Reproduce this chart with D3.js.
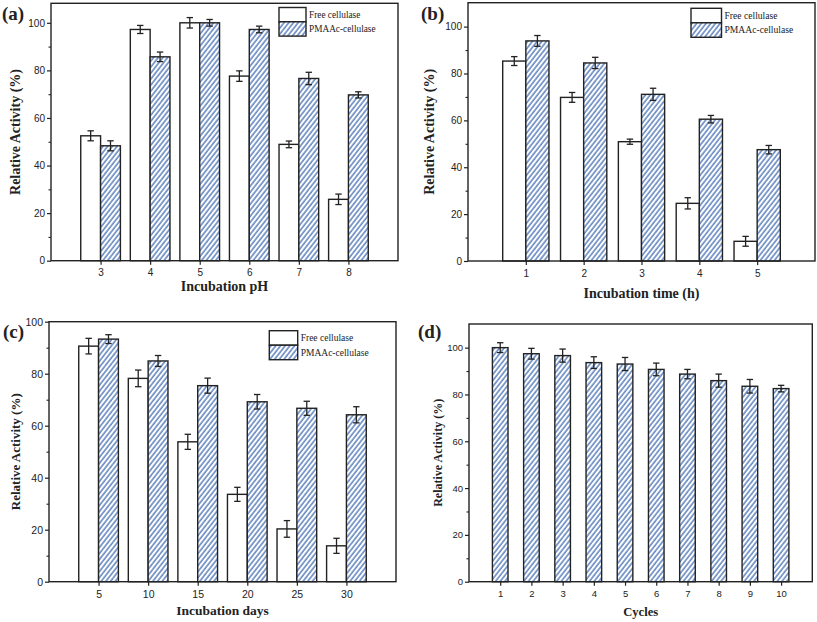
<!DOCTYPE html>
<html>
<head>
<meta charset="utf-8">
<script src="https://cdn.jsdelivr.net/npm/d3@7/dist/d3.min.js"></script>
<style>
  html, body { margin: 0; padding: 0; background: #fff; }
  svg { display: block; }
  .tick text { font-family: "Liberation Sans", Arial, sans-serif; fill: #222; }
  .serif { font-family: "Liberation Serif", "Times New Roman", serif; }
</style>
</head>
<body>
<svg id="chart" width="817" height="622"></svg>
<script>
// ---------------- DATA ----------------
const seriesNames = ["Free cellulase", "PMAAc-cellulase"];

const pHCats = [3, 4, 5, 6, 7, 8];
const pHFree = [52.5, 97.2, 100, 77.6, 48.9, 25.8];
const pHFreeErr = [2.1, 1.7, 2.2, 2.2, 1.4, 2.2];
const pHPmaac = [48.3, 85.7, 100, 97.2, 76.6, 69.7];
const pHPmaacErr = [2.1, 2.0, 1.4, 1.4, 2.6, 1.3];

const timeCats = [1, 2, 3, 4, 5];
const timeFree = [85.3, 69.8, 50.9, 24.6, 8.4];
const timeFreeErr = [1.9, 2.1, 1.1, 2.4, 2.1];
const timePmaac = [93.9, 84.5, 71.1, 60.5, 47.5];
const timePmaacErr = [2.3, 2.4, 2.6, 1.6, 1.8];

const dayCats = [5, 10, 15, 20, 25, 30];
const dayFree = [90.6, 78.2, 53.8, 33.6, 20.3, 13.8];
const dayFreeErr = [3.0, 3.2, 2.9, 2.7, 3.2, 2.9];
const dayPmaac = [93.3, 84.9, 75.4, 69.2, 66.7, 64.2];
const dayPmaacErr = [1.7, 2.1, 2.9, 2.8, 2.7, 3.1];

const cycleCats = [1, 2, 3, 4, 5, 6, 7, 8, 9, 10];
const cyclePmaac = [100, 97.4, 96.6, 93.6, 93.0, 90.7, 88.7, 85.9, 83.5, 82.5];
const cyclePmaacErr = [2.1, 2.3, 2.8, 2.5, 2.8, 2.7, 2.0, 2.8, 2.9, 1.4];

const yMajorTicks = [0, 20, 40, 60, 80, 100];
const yMinorTicks = [10, 30, 50, 70, 90];

// ---------------- DRAW ----------------
const svg = d3.select("#chart");
const HATCH = "#2153a6";
const INK = "#222";

const defs = svg.append("defs");
const pat = defs.append("pattern")
  .attr("id", "hatch")
  .attr("patternUnits", "userSpaceOnUse")
  .attr("width", 3.7).attr("height", 10)
  .attr("patternTransform", "rotate(38)");
pat.append("rect").attr("width", 3.7).attr("height", 10).attr("fill", "#fff");
pat.append("line").attr("x1", 1).attr("x2", 1).attr("y1", 0).attr("y2", 10)
  .attr("stroke", HATCH).attr("stroke-width", 1.1);

function drawPanel(cfg) {
  const g = svg.append("g");
  const x = d3.scaleLinear().domain(cfg.xDomain).range([cfg.left, cfg.right]);
  const y = d3.scaleLinear().domain([0, cfg.yMax]).range([cfg.bottom, cfg.top]);

  // bars
  cfg.series.forEach((s, si) => {
    const n = cfg.series.length;
    const data = cfg.cats.map((c, i) => ({ c, v: s.values[i], e: s.errors[i] }));
    const x0 = d => n === 1 ? x(d.c - cfg.bw / 2) : (si === 0 ? x(d.c - cfg.bw) : x(d.c));
    const x1 = d => n === 1 ? x(d.c + cfg.bw / 2) : (si === 0 ? x(d.c) : x(d.c + cfg.bw));
    g.selectAll(null).data(data).enter().append("rect")
      .attr("x", x0).attr("width", d => x1(d) - x0(d))
      .attr("y", d => y(d.v)).attr("height", d => y(0) - y(d.v))
      .attr("fill", s.hatch ? "url(#hatch)" : "#fff")
      .attr("stroke", INK).attr("stroke-width", 1.4);
    // error bars
    const eb = g.selectAll(null).data(data).enter().append("g")
      .attr("stroke", INK).attr("stroke-width", 1.3);
    const cx = d => (x0(d) + x1(d)) / 2;
    eb.append("line").attr("x1", cx).attr("x2", cx)
      .attr("y1", d => y(d.v - d.e)).attr("y2", d => y(d.v + d.e));
    eb.append("line").attr("x1", d => cx(d) - 3.2).attr("x2", d => cx(d) + 3.2)
      .attr("y1", d => y(d.v + d.e)).attr("y2", d => y(d.v + d.e));
    eb.append("line").attr("x1", d => cx(d) - 3.2).attr("x2", d => cx(d) + 3.2)
      .attr("y1", d => y(d.v - d.e)).attr("y2", d => y(d.v - d.e));
  });

  // axes
  const xa = g.append("g").attr("transform", `translate(0,${cfg.bottom})`)
    .call(d3.axisBottom(x).tickValues(cfg.cats).tickFormat(d3.format("d"))
      .tickSize(4).tickPadding(cfg.xPad || 5).tickSizeOuter(0));
  xa.select(".domain").remove();
  xa.selectAll(".tick line").attr("stroke", INK).attr("stroke-width", 1.2);
  xa.selectAll(".tick text").style("font-size", cfg.tickFont + "px");

  const ya = g.append("g").attr("transform", `translate(${cfg.left},0)`)
    .call(d3.axisLeft(y).tickValues(yMajorTicks).tickFormat(d3.format("d"))
      .tickSize(4).tickPadding(2).tickSizeOuter(0));
  ya.select(".domain").remove();
  ya.selectAll(".tick line").attr("stroke", INK).attr("stroke-width", 1.2);
  ya.selectAll(".tick text").style("font-size", cfg.tickFont + "px");

  const ym = g.append("g").attr("transform", `translate(${cfg.left},0)`)
    .call(d3.axisLeft(y).tickValues(yMinorTicks).tickSize(2.5).tickFormat(""));
  ym.select(".domain").remove();
  ym.selectAll(".tick line").attr("stroke", INK).attr("stroke-width", 1.1);

  // frame
  g.append("rect").attr("x", cfg.left).attr("y", cfg.top)
    .attr("width", cfg.right - cfg.left).attr("height", cfg.bottom - cfg.top)
    .attr("fill", "none").attr("stroke", INK).attr("stroke-width", 1.4);

  // axis titles
  g.append("text").attr("class", "serif")
    .attr("x", (cfg.left + cfg.right) / 2).attr("y", cfg.xTitleY)
    .attr("text-anchor", "middle").attr("font-weight", "bold")
    .attr("font-size", cfg.titleFont).attr("fill", INK).text(cfg.xTitle);
  g.append("text").attr("class", "serif")
    .attr("transform", `translate(${cfg.yTitleX},${(cfg.top + cfg.bottom) / 2}) rotate(-90)`)
    .attr("text-anchor", "middle").attr("font-weight", "bold")
    .attr("font-size", cfg.yTitleFont).attr("fill", INK).text("Relative Activity (%)");

  // panel label
  g.append("text").attr("class", "serif")
    .attr("x", cfg.labelX).attr("y", cfg.labelY)
    .attr("font-weight", "bold").attr("font-size", 19).attr("fill", INK).text(cfg.label);

  // legend
  if (cfg.legend) {
    const L = cfg.legend;
    cfg.series.forEach((s, i) => {
      g.append("rect").attr("x", L.x).attr("y", L.y + i * L.h)
        .attr("width", L.w).attr("height", L.h)
        .attr("fill", s.hatch ? "url(#hatch)" : "#fff")
        .attr("stroke", INK).attr("stroke-width", 1.4);
      g.append("text").attr("class", "serif")
        .attr("x", L.x + L.w + 3).attr("y", L.y + i * L.h + L.h / 2 + 3.3)
        .attr("font-size", L.font).attr("fill", INK).text(seriesNames[i]);
    });
  }
}

drawPanel({
  label: "(a)", labelX: 2, labelY: 20,
  left: 51, right: 398, top: 3.3, bottom: 260.7,
  xDomain: [2, 9], yMax: 108.2, cats: pHCats, bw: 0.4,
  series: [
    { values: pHFree, errors: pHFreeErr, hatch: false },
    { values: pHPmaac, errors: pHPmaacErr, hatch: true }
  ],
  tickFont: 10, titleFont: 14, yTitleFont: 14, xPad: 4,
  xTitle: "Incubation pH", xTitleY: 291, yTitleX: 20,
  legend: { x: 279, y: 7.5, w: 27, h: 14.3, font: 9.3 }
});

drawPanel({
  label: "(b)", labelX: 421, labelY: 19.5,
  left: 468, right: 815, top: 2.7, bottom: 261,
  xDomain: [0, 6], yMax: 110.2, cats: timeCats, bw: 0.4,
  series: [
    { values: timeFree, errors: timeFreeErr, hatch: false },
    { values: timePmaac, errors: timePmaacErr, hatch: true }
  ],
  tickFont: 10, titleFont: 14, yTitleFont: 14,
  xTitle: "Incubation time (h)", xTitleY: 298, yTitleX: 434,
  legend: { x: 691, y: 8.3, w: 30.5, h: 14.5, font: 9.6 }
});

drawPanel({
  label: "(c)", labelX: 3, labelY: 338,
  left: 49, right: 396, top: 321.7, bottom: 581.7,
  xDomain: [0, 35], yMax: 100, cats: dayCats, bw: 2,
  series: [
    { values: dayFree, errors: dayFreeErr, hatch: false },
    { values: dayPmaac, errors: dayPmaacErr, hatch: true }
  ],
  tickFont: 10.5, titleFont: 13.5, yTitleFont: 13,
  xTitle: "Incubation days", xTitleY: 615, yTitleX: 19.5,
  legend: { x: 269.3, y: 330.7, w: 28.4, h: 14.5, font: 9.5 }
});

drawPanel({
  label: "(d)", labelX: 418, labelY: 338,
  left: 469, right: 812.3, top: 324, bottom: 581.7,
  xDomain: [0, 11], yMax: 110.1, cats: cycleCats, bw: 0.5,
  series: [
    { values: cyclePmaac, errors: cyclePmaacErr, hatch: true }
  ],
  tickFont: 9.5, titleFont: 12.6, yTitleFont: 12,
  xTitle: "Cycles", xTitleY: 616, yTitleX: 442,
  legend: null
});
</script>
</body>
</html>
